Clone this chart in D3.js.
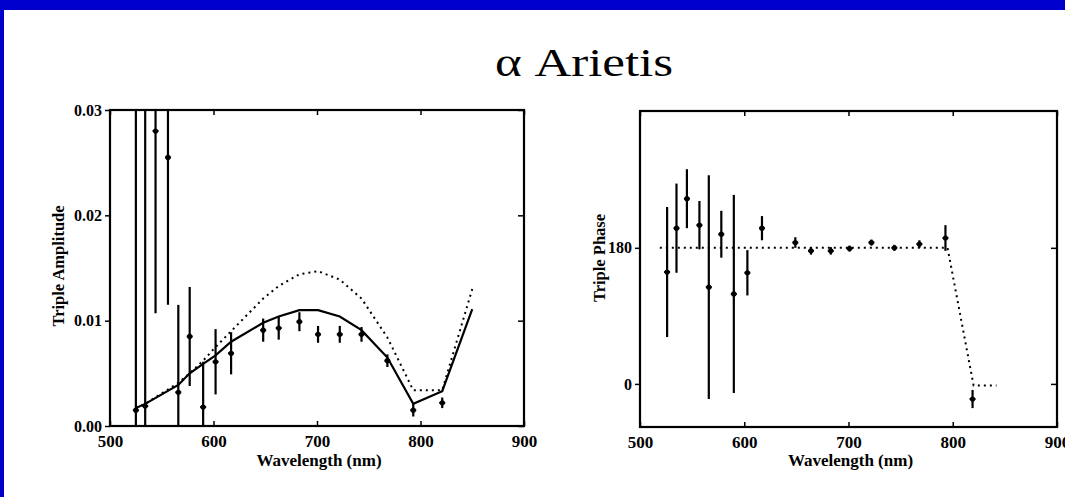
<!DOCTYPE html>
<html lang="en">
    <head>
        <meta charset="utf-8">
        <title>alpha Arietis</title>
        <script type="text/javascript" src="https://cdn.jsdelivr.net/npm/d3@7"></script>
        <style type="text/css">
            body { margin: 0; background: white; }
            text { font-family: "Liberation Serif", "DejaVu Serif", serif; }
        </style>
    </head>
    <body>
        <script type="text/javascript">
        // canvas size
        var svgWidth = 1065;
        var svgHeight = 497;

        // ---- amplitude panel data (wavelength nm, value, error) ----
        var ampWave  = [525, 534, 544, 556, 566, 577, 590, 602, 617, 648, 663, 683, 701, 722, 743, 768, 793, 821];
        var ampValue = [0.0015, 0.0019, 0.028, 0.0255, 0.0032, 0.0085, 0.0018, 0.0061, 0.0069, 0.0091, 0.0093, 0.0099, 0.0087, 0.0087, 0.0087, 0.0062, 0.0015, 0.0022];
        var ampError = [0.05, 0.05, 0.0173, 0.014, 0.0083, 0.0047, 0.0043, 0.0031, 0.0020, 0.0011, 0.0011, 0.0009, 0.0008, 0.0008, 0.0007, 0.0006, 0.0006, 0.0005];

        // model curves for amplitude
        var modelWave   = [525, 534, 566, 577, 590, 602, 617, 648, 663, 683, 701, 722, 743, 768, 793, 821, 850];
        var modelSolid  = [0.0017, 0.0021, 0.0039, 0.0050, 0.0059, 0.0067, 0.0080, 0.0098, 0.0104, 0.0110, 0.0110, 0.0104, 0.0091, 0.0065, 0.0021, 0.0033, 0.0111];
        var modelDotted = [0.0017, 0.0021, 0.0041, 0.0050, 0.0062, 0.0075, 0.0090, 0.0121, 0.0133, 0.0144, 0.0147, 0.0139, 0.0121, 0.0084, 0.0034, 0.0034, 0.0130];

        // ---- phase panel data ----
        var phaseWave  = [526, 535, 545, 557, 566, 578, 590, 603, 617, 649, 664, 683, 701, 722, 744, 768, 793, 819];
        var phaseValue = [148, 206, 245, 210, 128, 198, 119, 147, 206, 187, 176, 176, 179, 187, 180, 185, 193, -20];
        var phaseError = [86, 59, 39, 32, 148, 31, 131, 30, 16, 7, 5, 5, 4, 4, 4, 5, 17, 12];

        var phaseModelWave  = [519, 795, 820, 842];
        var phaseModelValue = [180, 180, -2, -2];

        // tick labels
        var xTicks = [500, 600, 700, 800, 900];
        var ampTicks = [0, 0.01, 0.02, 0.03];
        var phaseTicks = [0, 180];

        var svg = d3.select("body")
            .append("svg")
            .attr("width", svgWidth)
            .attr("height", svgHeight);

        // white page with blue frame at top and left
        svg.append("rect").attr("width", svgWidth).attr("height", svgHeight).attr("fill", "white");
        svg.append("rect").attr("x", 0).attr("y", 0).attr("width", svgWidth).attr("height", 10).attr("fill", "#0000cc");
        svg.append("rect").attr("x", 0).attr("y", 0).attr("width", 4).attr("height", svgHeight).attr("fill", "#0000cc");

        // title (the scan is a bit stretched sideways, so fix its length)
        svg.append("text")
            .attr("x", 584)
            .attr("y", 76)
            .attr("text-anchor", "middle")
            .attr("font-family", "'Liberation Serif', 'DejaVu Serif', serif")
            .attr("font-size", "40px")
            .attr("textLength", 178)
            .attr("lengthAdjust", "spacingAndGlyphs")
            .text("\u03b1 Arietis");

        function drawPanel(opt) {
            var x = d3.scaleLinear().domain([500, 900]).range([opt.left, opt.right]);
            var y = d3.scaleLinear().domain(opt.yDomain).range([opt.bottom, opt.top]);
            var g = svg.append("g");

            var clipId = "clip" + opt.id;
            svg.append("clipPath").attr("id", clipId)
                .append("rect")
                .attr("x", opt.left).attr("y", opt.top)
                .attr("width", opt.right - opt.left).attr("height", opt.bottom - opt.top);

            var plot = g.append("g").attr("clip-path", "url(#" + clipId + ")");

            // model lines
            var line = d3.line().x(function(d) { return x(d[0]); }).y(function(d) { return y(d[1]); });
            opt.models.forEach(function(m) {
                plot.append("path")
                    .datum(d3.zip(m.wave, m.values))
                    .attr("d", line)
                    .attr("fill", "none")
                    .attr("stroke", "black")
                    .attr("stroke-width", m.dotted ? 2 : 2.2)
                    .attr("stroke-dasharray", m.dotted ? "2,4" : null);
            });

            // error bars and points
            var pts = d3.zip(opt.wave, opt.values, opt.errors);
            plot.selectAll("line.err")
                .data(pts)
                .enter()
                .append("line")
                .attr("class", "err")
                .attr("x1", function(d) { return x(d[0]); })
                .attr("x2", function(d) { return x(d[0]); })
                .attr("y1", function(d) { return y(d[1] - d[2]); })
                .attr("y2", function(d) { return y(d[1] + d[2]); })
                .attr("stroke", "black")
                .attr("stroke-width", 2.2);
            plot.selectAll("line.tick")
                .data(pts)
                .enter()
                .append("line")
                .attr("x1", function(d) { return x(d[0]) - 3; })
                .attr("x2", function(d) { return x(d[0]) + 3; })
                .attr("y1", function(d) { return y(d[1]); })
                .attr("y2", function(d) { return y(d[1]); })
                .attr("stroke", "black")
                .attr("stroke-width", 2);
            plot.selectAll("circle")
                .data(pts)
                .enter()
                .append("circle")
                .attr("cx", function(d) { return x(d[0]); })
                .attr("cy", function(d) { return y(d[1]); })
                .attr("r", 2.6)
                .attr("fill", "black");

            // axes
            var fontTick = function(sel, size) {
                sel.selectAll("text")
                    .attr("font-family", "'Liberation Serif', serif")
                    .attr("font-weight", "bold")
                    .attr("font-size", size)
                    .attr("fill", "black");
                sel.selectAll("line").attr("stroke", "black").attr("stroke-width", 1.5);
                sel.select(".domain").remove();
            };

            g.append("g")
                .attr("transform", "translate(0," + opt.bottom + ")")
                .call(d3.axisBottom(x).tickValues(xTicks).tickSize(-5).tickPadding(9))
                .call(fontTick, "17px");
            g.append("g")
                .attr("transform", "translate(0," + opt.top + ")")
                .call(d3.axisTop(x).tickValues(xTicks).tickSize(-5).tickFormat(""))
                .call(fontTick, "17px");
            g.append("g")
                .attr("transform", "translate(" + opt.left + ",0)")
                .call(d3.axisLeft(y).tickValues(opt.yTicks).tickSize(5).tickPadding(3).tickFormat(opt.yFormat))
                .call(fontTick, "16px");
            g.append("g")
                .attr("transform", "translate(" + opt.right + ",0)")
                .call(d3.axisRight(y).tickValues(opt.yTicks).tickSize(-6).tickFormat(""))
                .call(fontTick, "16px");

            // frame
            g.append("rect")
                .attr("x", opt.left).attr("y", opt.top)
                .attr("width", opt.right - opt.left).attr("height", opt.bottom - opt.top)
                .attr("fill", "none")
                .attr("stroke", "black")
                .attr("stroke-width", 2.2);

            // axis titles
            g.append("text")
                .attr("x", (opt.left + opt.right) / 2 + 2)
                .attr("y", 466)
                .attr("text-anchor", "middle")
                .attr("font-weight", "bold")
                .attr("font-size", "17px")
                .text("Wavelength (nm)");
            g.append("text")
                .attr("transform", "translate(" + opt.yLabelX + "," + opt.yLabelY + ") rotate(-90)")
                .attr("text-anchor", "middle")
                .attr("font-weight", "bold")
                .attr("font-size", "16.5px")
                .text(opt.yLabel);
        }

        drawPanel({
            id: "amp",
            left: 110, right: 524, top: 110, bottom: 426,
            yDomain: [0, 0.03],
            yTicks: ampTicks,
            yFormat: d3.format(".2f"),
            wave: ampWave, values: ampValue, errors: ampError,
            models: [
                { wave: modelWave, values: modelSolid, dotted: false },
                { wave: modelWave, values: modelDotted, dotted: true }
            ],
            yLabel: "Triple Amplitude", yLabelX: 64, yLabelY: 266
        });

        drawPanel({
            id: "phase",
            left: 640, right: 1057, top: 111, bottom: 427,
            yDomain: [-57, 361],
            yTicks: phaseTicks,
            yFormat: d3.format("d"),
            wave: phaseWave, values: phaseValue, errors: phaseError,
            models: [
                { wave: phaseModelWave, values: phaseModelValue, dotted: true }
            ],
            yLabel: "Triple Phase", yLabelX: 605, yLabelY: 258
        });
        </script>
    </body>
</html>
